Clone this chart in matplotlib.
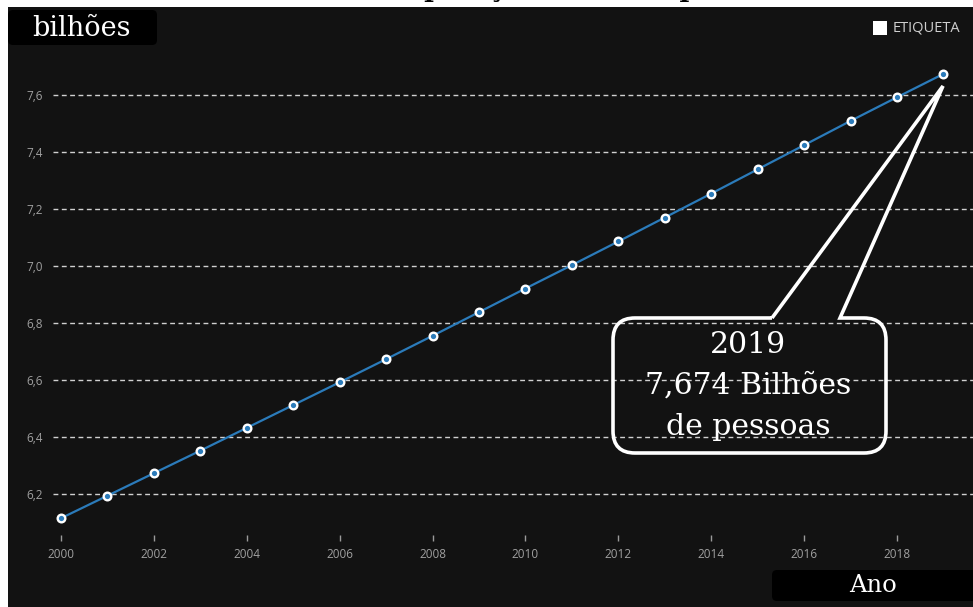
import matplotlib
matplotlib.use('Agg')
import matplotlib.pyplot as plt
from matplotlib.path import Path
from matplotlib.patches import PathPatch, FancyBboxPatch, Rectangle
import matplotlib.transforms as mtransforms

# ---- data ----
years = list(range(2000, 2020))
population = [6.115, 6.194, 6.273, 6.352, 6.432, 6.512, 6.592, 6.673, 6.755, 6.838,
              6.921, 7.003, 7.086, 7.170, 7.254, 7.339, 7.424, 7.509, 7.592, 7.674]
yticks = [6.2, 6.4, 6.6, 6.8, 7.0, 7.2, 7.4, 7.6]
ytick_labels = ['6,2', '6,4', '6,6', '6,8', '7,0', '7,2', '7,4', '7,6']
xticks = list(range(2000, 2019, 2))
xtick_labels = [str(y) for y in xticks]
title_text = 'Gráfico 1 – População mundial por ano'
y_label = 'bilhões'
x_label = 'Ano'
legend_label = 'ETIQUETA'
callout_lines = ['2019', '7,674 Bilhões', 'de pessoas']

W, H = 973, 607
fig = plt.figure(figsize=(W / 100, H / 100), dpi=100)
fig.patch.set_facecolor('white')
px = mtransforms.Affine2D().scale(1 / W, -1 / H).translate(0, 1) + fig.transFigure

# background panel
fig.patches.append(Rectangle((8, 7), W - 8, H - 7, transform=px, facecolor='#121212',
                             edgecolor='none', zorder=-1))
# cut-off title above panel (only its lowest strip is visible, as in the reference)
fig.text(506 / W, 1 + 2.5 / H, title_text, ha='center', va='baseline', fontsize=19,
         fontweight='bold', family='DejaVu Serif', color='black', zorder=-2)

ax = fig.add_axes([53 / W, 1 - 535 / H, (W - 53) / W, (535 - 45) / H])
ax.set_facecolor('none')
ax.set_xlim(1999.828, 2019.637)
ax.set_ylim(6.0561, 7.7754)

ax.plot(years, population, color='#2b7bba', lw=1.6, marker='o', markersize=5.5,
        markerfacecolor='#2b7bba', markeredgecolor='white', markeredgewidth=1.7,
        zorder=4, clip_on=False)

ax.set_yticks(yticks)
ax.set_yticklabels(ytick_labels)
ax.set_xticks(xticks)
ax.set_xticklabels(xtick_labels)
for lab in ax.get_xticklabels() + ax.get_yticklabels():
    lab.set_family('Open Sans')
ax.tick_params(axis='x', length=4, width=1, color='#9a9a9a', labelcolor='#a0a0a0',
               labelsize=8.5, pad=5)
ax.tick_params(axis='y', length=0, labelcolor='#a0a0a0', labelsize=8.5, pad=7)
for s in ax.spines.values():
    s.set_visible(False)
ax.yaxis.grid(True, color='#d0d0d0', lw=1.0, linestyle=(0, (3.5, 2.5)))
ax.xaxis.grid(False)
ax.set_axisbelow(True)

# "bilhões" label box
fig.patches.append(FancyBboxPatch((8, 10), 149, 35, boxstyle='round,pad=0,rounding_size=5',
                                  transform=px, facecolor='black', edgecolor='none', zorder=2))
fig.text(81 / W, 1 - 29 / H, y_label, ha='center', va='center', fontsize=19.5,
         family='DejaVu Serif', color='white', zorder=3)

# "Ano" label box
fig.patches.append(FancyBboxPatch((772, 570), 210, 31, boxstyle='round,pad=0,rounding_size=5',
                                  transform=px, facecolor='black', edgecolor='none', zorder=2))
fig.text(873 / W, 1 - 585 / H, x_label, ha='center', va='center', fontsize=17.5,
         family='DejaVu Serif', color='white', zorder=3)

# legend
fig.patches.append(Rectangle((873, 21), 14, 14, transform=px, facecolor='white',
                             edgecolor='none', zorder=3))
fig.text(893 / W, 1 - 28.5 / H, legend_label, ha='left', va='center', fontsize=10.5,
         family='Open Sans', color='#cfcfcf', zorder=3)

# callout
L, R, T, B, r = 613, 886, 318, 453, 22
tip = (943, 86)
verts = [(772, T), (L + r, T), (L, T), (L, T + r), (L, B - r), (L, B), (L + r, B),
         (R - r, B), (R, B), (R, B - r), (R, T + r), (R, T), (R - r, T), (840, T), tip, (772, T)]
codes = [Path.MOVETO, Path.LINETO, Path.CURVE3, Path.CURVE3, Path.LINETO, Path.CURVE3, Path.CURVE3,
         Path.LINETO, Path.CURVE3, Path.CURVE3, Path.LINETO, Path.CURVE3, Path.CURVE3,
         Path.LINETO, Path.LINETO, Path.LINETO]
fig.patches.append(PathPatch(Path(verts, codes), transform=px, facecolor='none',
                             edgecolor='white', lw=2.6, joinstyle='miter', zorder=5))
for i, line in enumerate(callout_lines):
    fig.text(748 / W, 1 - (345 + 41 * i) / H, line, ha='center', va='center', fontsize=21.5,
             family='DejaVu Serif', color='white', zorder=6)

fig.savefig('out.png', dpi=100, facecolor=fig.get_facecolor())
